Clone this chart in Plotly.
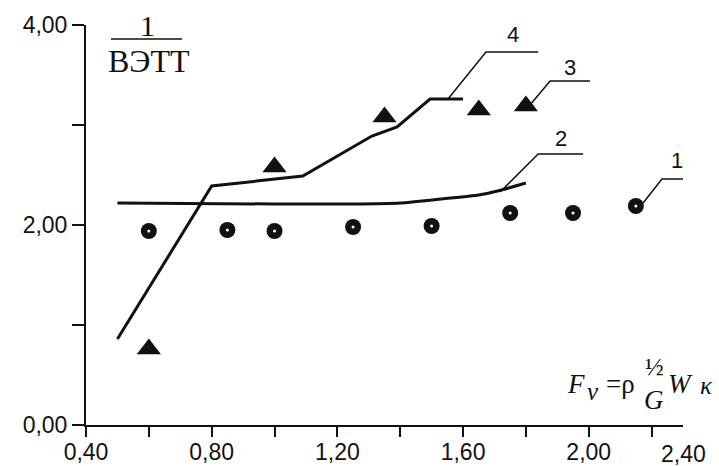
import plotly.graph_objects as go

# ---- data ----
c1_x = [0.60, 0.85, 1.00, 1.25, 1.50, 1.75, 1.95, 2.15]
c1_y = [1.94, 1.95, 1.94, 1.98, 1.99, 2.12, 2.12, 2.19]

c2_x = [0.50, 1.00, 1.25, 1.40, 1.53, 1.65, 1.71, 1.80]
c2_y = [2.22, 2.21, 2.21, 2.22, 2.26, 2.30, 2.34, 2.42]

c3_x = [0.60, 1.00, 1.35, 1.65, 1.80]
c3_y = [0.76, 2.58, 3.08, 3.15, 3.19]

c4_x = [0.50, 0.80, 1.09, 1.31, 1.39, 1.495, 1.60]
c4_y = [0.86, 2.39, 2.49, 2.89, 2.98, 3.26, 3.26]

# leader lines for curve labels (data coords)
lead = {
    "4": ([1.552, 1.673, 1.839], [3.26, 3.73, 3.73], (1.759, 3.91)),
    "3": ([1.813, 1.877, 2.004], [3.20, 3.44, 3.44], (1.940, 3.58)),
    "2": ([1.718, 1.839, 1.982], [2.33, 2.71, 2.71], (1.912, 2.87)),
    "1": ([2.173, 2.233, 2.326], [2.22, 2.46, 2.46], (2.281, 2.65)),
}

x_ticks = [0.4, 0.8, 1.2, 1.6, 2.0]
y_ticks = [0, 2, 4]

W, H = 719, 466
L, R, T, B = 86, 36, 25, 41
PW, PH = W - L - R, H - T - B

def px(x):
    return (x - L) / PW

def py(y):
    return (T + PH - y) / PH

SANS = "Liberation Sans, Arial, sans-serif"
SERIF = "Liberation Serif, DejaVu Serif, Times New Roman, serif"
INK = "#111"

fig = go.Figure()

# curve 4
fig.add_trace(go.Scatter(x=c4_x, y=c4_y, mode="lines",
                         line=dict(color=INK, width=3), cliponaxis=False))
# curve 2
fig.add_trace(go.Scatter(x=c2_x, y=c2_y, mode="lines", line_shape="spline",
                         line=dict(color=INK, width=3, smoothing=0.6), cliponaxis=False))
# triangles 3
fig.add_trace(go.Scatter(x=c3_x, y=c3_y, mode="markers",
                         marker=dict(symbol="triangle-up", size=21, color=INK),
                         cliponaxis=False))
# circles 1
fig.add_trace(go.Scatter(x=c1_x, y=c1_y, mode="markers",
                         marker=dict(symbol="circle", size=16, color=INK),
                         cliponaxis=False))
fig.add_trace(go.Scatter(x=c1_x, y=c1_y, mode="markers",
                         marker=dict(symbol="circle", size=3, color="white"),
                         cliponaxis=False))

annotations = []
for name, (lx, ly, (tx, ty)) in lead.items():
    fig.add_trace(go.Scatter(x=lx, y=ly, mode="lines",
                             line=dict(color=INK, width=1.5), cliponaxis=False))
    annotations.append(dict(x=tx, y=ty, xref="x", yref="y", text=name,
                            xanchor="center", yanchor="middle",
                            showarrow=False, font=dict(family=SANS, size=22, color=INK)))

# "2,40" label at the axis end
annotations.append(dict(x=1.0, y=0, xref="paper", yref="paper", text="2,40",
                        showarrow=False, xanchor="center", yanchor="top", yshift=-14,
                        font=dict(family=SANS, size=23, color=INK)))

# y-axis label: 1 / ВЭТТ
annotations.append(dict(x=px(147), y=py(25), xref="paper", yref="paper", text="1",
                        xanchor="center", yanchor="middle",
                        showarrow=False, font=dict(family=SERIF, size=30, color=INK)))
annotations.append(dict(x=px(149), y=py(61), xref="paper", yref="paper", text="ВЭТТ",
                        xanchor="center", yanchor="middle",
                        showarrow=False, font=dict(family=SERIF, size=32, color=INK)))

# x-axis title: F_v = ρ_G^{1/2} W_κ
ti = dict(showarrow=False, xref="paper", yref="paper", xanchor="left", yanchor="bottom")
annotations += [
    dict(x=px(565), y=py(401), text="<i>F</i>", font=dict(family=SERIF, size=27, color=INK), **ti),
    dict(x=px(585), y=py(407), text="<i>v</i>", font=dict(family=SERIF, size=25, color=INK), **ti),
    dict(x=px(604), y=py(401), text="=ρ", font=dict(family=SERIF, size=27, color=INK), **ti),
    dict(x=px(643), y=py(382), text="½", font=dict(family=SERIF, size=25, color=INK), **ti),
    dict(x=px(642), y=py(417), text="<i>G</i>", font=dict(family=SERIF, size=27, color=INK), **ti),
    dict(x=px(666), y=py(401), text="<i>W</i>", font=dict(family=SERIF, size=27, color=INK), **ti),
    dict(x=px(698), y=py(401), text="<i>κ</i>", font=dict(family=SERIF, size=25, color=INK), **ti),
]

fig.update_layout(
    width=W, height=H,
    margin=dict(l=L, r=R, t=T, b=B, autoexpand=False),
    paper_bgcolor="white", plot_bgcolor="white",
    showlegend=False,
    separators=", ",
    annotations=annotations,
    shapes=[dict(type="line", xref="paper", yref="paper",
                 x0=px(111), x1=px(182), y0=py(39), y1=py(39),
                 line=dict(color=INK, width=1.5))],
    xaxis=dict(range=[0.4, 2.3], tickvals=x_ticks, tickformat=".2f",
               automargin=False, ticklabelstandoff=-5,
               showgrid=False, zeroline=False,
               showline=True, linecolor=INK, linewidth=2,
               ticks="outside", ticklen=10, tickwidth=2, tickcolor=INK,
               minor=dict(dtick=0.2, tick0=0.4, ticks="outside", ticklen=10,
                          tickwidth=2, tickcolor=INK, showgrid=False),
               tickfont=dict(family=SANS, size=23, color=INK)),
    yaxis=dict(range=[0, 4], tickvals=y_ticks, tickformat=".2f",
               automargin=False,
               showgrid=False, zeroline=False,
               showline=True, linecolor=INK, linewidth=2,
               ticks="outside", ticklen=12, tickwidth=2, tickcolor=INK,
               minor=dict(dtick=1, tick0=0, ticks="outside", ticklen=12,
                          tickwidth=2, tickcolor=INK, showgrid=False),
               tickfont=dict(family=SANS, size=23, color=INK)),
)

fig.write_html("out.html")
